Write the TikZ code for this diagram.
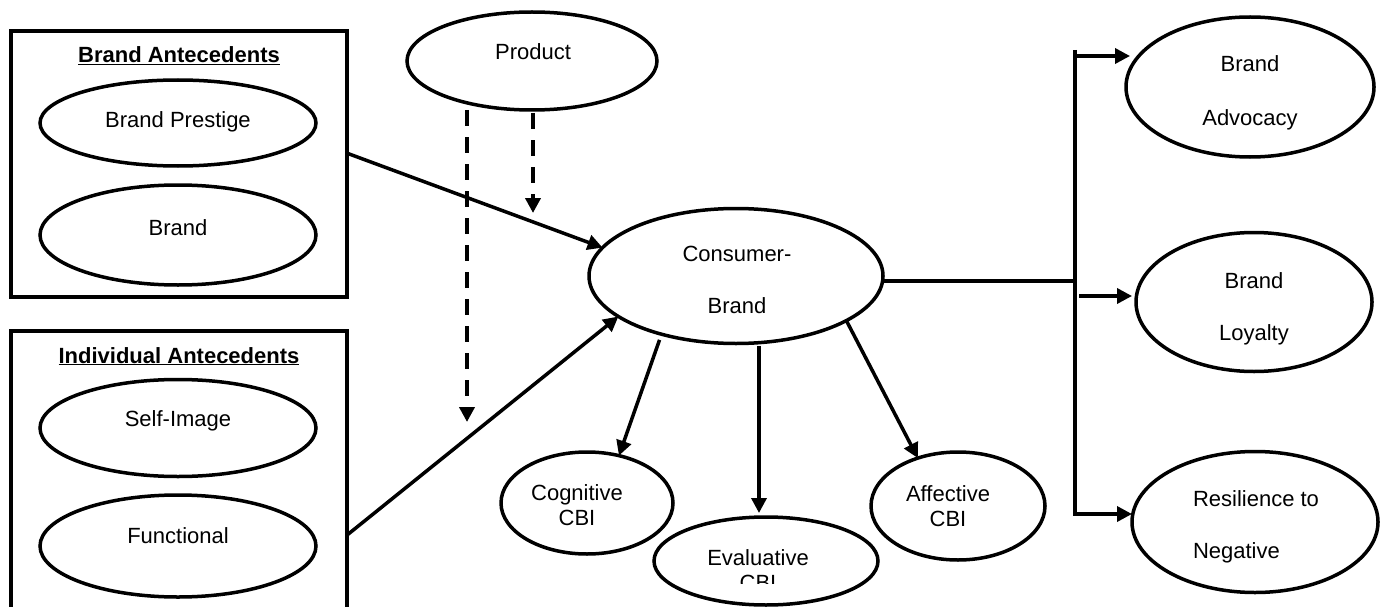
\documentclass[tikz,border=0pt]{standalone}
\usepackage{fontspec}
\setmainfont{Liberation Sans}
\usetikzlibrary{shapes.geometric,arrows.meta,calc}
\begin{document}
\begin{tikzpicture}[x=1pt,y=-1pt,
  every node/.style={font=\fontsize{22}{25}\selectfont},
  oval/.style={draw, ellipse, line width=3.5pt, inner sep=0pt, outer sep=0pt},
  group/.style={draw, line width=4pt, inner sep=0pt, outer sep=0pt},
  one/.style={text height=16pt, text depth=0pt},
  two/.style={align=center, text height=41pt, text depth=0pt},
  twowide/.style={align=center, text height=#1, text depth=0pt},
  ttl/.style={font=\fontsize{22}{25}\selectfont\bfseries, anchor=base},
  conn/.style={line width=3.5pt, -{Triangle[length=15pt,width=15pt]}},
  plainline/.style={line width=3.5pt},
  dconn/.style={line width=4pt, dash pattern=on 16pt off 11pt, -{Triangle[length=15pt,width=15pt]}},
]
\useasboundingbox (0,0) rectangle (1383,607);

% group boxes
\node[group, minimum width=336pt, minimum height=266pt] (ba) at (178.5,164) {};
\node[ttl] (bat) at (179,63) {\underline{Brand Antecedents}};
\node[group, minimum width=336pt, minimum height=309pt] (ia) at (178.5,485.5) {};
\node[ttl] (iat) at (179,363) {\underline{Individual Antecedents}};

% left ellipses
\node[oval, minimum width=276pt, minimum height=86pt,
  label={[one, yshift=3pt]center:Brand Prestige}] (bp) at (178,123) {};
\node[oval, minimum width=276pt, minimum height=100pt,
  label={[one, yshift=8pt]center:Brand}] (br) at (178,235) {};
\node[oval, minimum width=276pt, minimum height=97pt,
  label={[one, yshift=10pt]center:Self-Image}] (si) at (178,428) {};
\node[oval, minimum width=276pt, minimum height=102pt,
  label={[one, yshift=11pt]center:Functional}] (fu) at (178,546) {};

% product
\node[oval, minimum width=250pt, minimum height=98pt,
  label={[one, yshift=9pt, xshift=1pt]center:Product}] (pr) at (532,61) {};

% consumer-brand
\node[oval, minimum width=294pt, minimum height=135pt,
  label={[twowide=68pt, yshift=-3pt, xshift=1pt]center:Consumer-\\[27pt]Brand}] (cb) at (736,276) {};

% CBI ellipses
\node[oval, minimum width=172pt, minimum height=102pt,
  label={[two, yshift=-1.5pt, xshift=-10pt]center:Cognitive\\CBI}] (cog) at (587,503) {};
\node[oval, minimum width=174pt, minimum height=108pt,
  label={[two, yshift=0.5pt, xshift=-10pt]center:Affective\\CBI}] (aff) at (958,506) {};
\node[oval, minimum width=224pt, minimum height=88pt] (ev) at (766,561) {};
\begin{scope}
  \clip (640,530) rectangle (890,583);
  \node[two] (evt) at (758,569.5) {Evaluative\\CBI};
\end{scope}

% outcome ellipses
\node[oval, minimum width=248pt, minimum height=140pt,
  label={[twowide=70pt, yshift=-3pt]center:Brand\\[29pt]Advocacy}] (adv) at (1250,87) {};
\node[oval, minimum width=236pt, minimum height=139pt,
  label={[twowide=68pt, yshift=-4pt]center:Brand\\[27pt]Loyalty}] (loy) at (1254,302) {};
\node[oval, minimum width=246pt, minimum height=141pt,
  label={[twowide=68pt, yshift=-2pt, xshift=1pt, align=left]center:Resilience to\\[27pt]Negative}] (res) at (1255,522) {};

% coordinates for free ends and the bus
\coordinate (d1end) at (467,422);
\coordinate (d2end) at (533,213);
\coordinate (jn) at (1075,281);
\coordinate (bustop) at (1075,50);
\coordinate (busA) at (1075,56);
\coordinate (busB) at (1079,296);
\coordinate (busC) at (1075,514);

% dashed moderator arrows
\draw[dconn] ([xshift=-65pt]pr.south) -- (d1end);
\draw[dconn] ([xshift=1pt,yshift=-3pt]pr.south) -- (d2end);

% antecedents to consumer-brand
\draw[conn] ([yshift=11pt]ba.east) -- (cb.168);
\draw[conn] ([yshift=-50pt]ia.east) -- (cb.199);

% consumer-brand to CBI
\draw[conn, shorten <=6pt] (cb.218) -- (cog.56);
\draw[conn] ([xshift=23pt,yshift=-2pt]cb.south) -- ([xshift=-7pt,yshift=4pt]ev.north);
\draw[conn] (cb.338) -- (aff.130);

% consumer-brand to outcomes
\draw[plainline] ([yshift=-5pt]cb.east) -- (jn);
\draw[conn] (bustop) -- (busC) -- (res.west |- busC);
\draw[conn] (busA) -- ($(adv.west |- busA)+(4,0)$);
\draw[conn] (busB) -- ($(loy.west |- busB)+(-4,0)$);
\end{tikzpicture}
\end{document}
